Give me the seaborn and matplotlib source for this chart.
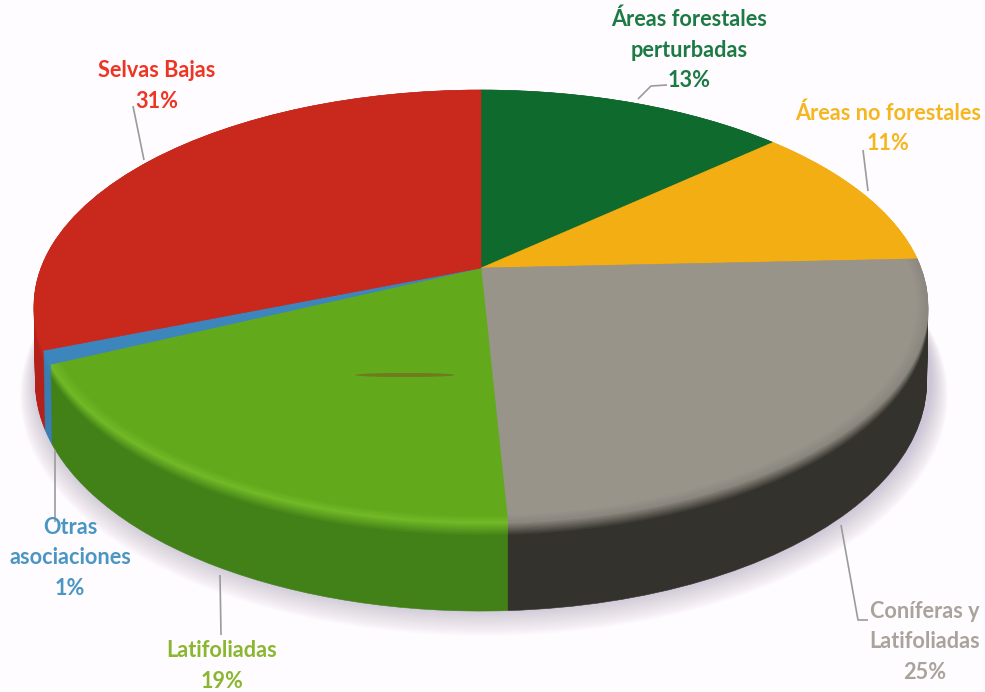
import numpy as np
import matplotlib
matplotlib.use("Agg")
import matplotlib.pyplot as plt
from matplotlib.transforms import Transform
from matplotlib.patches import Ellipse
import seaborn as sns

# ---- data ----
categories = ["Áreas forestales\nperturbadas", "Áreas no forestales", "Coníferas y\nLatifoliadas",
              "Latifoliadas", "Otras\nasociaciones", "Selvas Bajas"]
percent_labels = [13, 11, 25, 19, 1, 31]
slice_shares = [13.3, 11.0, 24.9, 18.8, 1.0, 31.0]
top_colors = ["#0f6a2e", "#f2ae12", "#98948a", "#62aa1c", "#3d86bd", "#c9281c"]
rim_colors = ["#0f6a2e", "#f2ae12", "#8c8880", "#70b826", "#3d86bd", "#c9281c"]
side_colors = ["#0a4a20", "#b88208", "#34322c", "#428018", "#3a7db0", "#b4201a"]
text_colors = ["#1d7a45", "#f6b61f", "#aaa39c", "#8bb62f", "#4b95c3", "#ee3524"]

# ---- layout (pixels) ----
CX, CY = 481, 268
A, B, K = 209.3, 440.0, 0.176
DEPTH = 74
BG = "#fefcfe"


class Perspective(Transform):
    """Tilted-disc projection of the unit pie into figure pixels."""
    input_dims = output_dims = 2
    is_separable = False
    has_inverse = False

    def __init__(self, t=0.0, shrink=1.0, dx=0.0):
        super().__init__()
        self.t, self.shrink, self.dx = t, shrink, dx

    def transform_non_affine(self, values):
        v = np.asarray(values, float)
        w = 1 + K * v[:, 1]
        x = CX + self.dx + B * self.shrink * v[:, 0] / w
        y = CY - A * self.shrink * v[:, 1] / w + DEPTH * self.t / w
        return np.column_stack([x, y])


sns.set_theme(style="white")
fig = plt.figure(figsize=(9.85, 6.92), dpi=100, facecolor=BG)
ax = fig.add_axes([0, 0, 1, 1])
ax.set_facecolor(BG)


def draw_pie(vals, colors, t=0.0, shrink=1.0, dx=0.0, alpha=None, z=1.0):
    wedges, _ = ax.pie(vals, colors=colors, startangle=90, counterclock=False, radius=1,
                       center=(0, 0), wedgeprops={"alpha": alpha})
    tr = Perspective(t, shrink, dx) + ax.transData
    for w in wedges:
        w.set_transform(tr)
        w.set_clip_on(False)
        w.set_zorder(z)
        if alpha is None:
            w.set_edgecolor(w.get_facecolor())
            w.set_linewidth(0.4)
        else:
            w.set_linewidth(0)


# soft shadow
shadow_steps = np.linspace(1.16, 0.95, 26)
for i, s in enumerate(shadow_steps):
    grow = 1.0 + 0.038 * (1 - i / (len(shadow_steps) - 1))
    draw_pie([1], ["#a99dbb"], t=float(s), shrink=grow, dx=3, alpha=0.022, z=0.5 + i * 0.001)

# side wall: stacked slices from the bottom up
layers = np.linspace(1.0, 0.0, 56)
side_ramps = [sns.blend_palette([r, s], 9) for r, s in zip(rim_colors, side_colors)]
for i, t in enumerate(layers):
    idx = min(int(t / 0.16 * 8), 8)
    cols = [ramp[idx] for ramp in side_ramps]
    draw_pie(slice_shares, cols, t=float(t), shrink=1 - 0.003 * t, z=1 + i * 0.001)

# top face, with a thin bevel towards the rim
draw_pie(slice_shares, rim_colors, z=2.0)
for j, r in enumerate(np.linspace(0.995, 0.975, 4)):
    cols = [sns.blend_palette([rc, tc], 5)[j + 1] for rc, tc in zip(rim_colors, top_colors)]
    draw_pie(slice_shares, cols, shrink=float(r), z=2.01 + j * 0.001)

ax.set_aspect("auto")
ax.set_xlim(0, 985)
ax.set_ylim(692, 0)
ax.axis("off")

# small scanning mark on the green slice
ax.add_patch(Ellipse((405, 375), 100, 4, color="#7a5a20", alpha=0.6, lw=0, zorder=3))

# leader lines
leaders = [
    ([133, 144], [106, 160]),
    ([638, 651, 667], [99, 86, 85]),
    ([863, 868], [150, 191]),
    ([841, 858, 868], [525, 620, 620]),
    ([220, 221], [575, 635]),
    ([55, 55], [450, 522]),
]
for xs, ys in leaders:
    ax.plot(xs, ys, color="#9b9b9b", lw=1.2, zorder=4, solid_capstyle="butt")

# labels
label_pos = [(689, 50), (888, 128), (925, 642), (222, 666), (70, 558), (157, 86)]
for name, val, col, (x, y) in zip(categories, percent_labels, text_colors, label_pos):
    ax.text(x, y, f"{name}\n{val}%", color=col, ha="center", va="center", fontsize=15.6,
            fontweight="bold", family="Lato", linespacing=1.55, zorder=5)

fig.savefig("out.png", dpi=100, facecolor=BG)
